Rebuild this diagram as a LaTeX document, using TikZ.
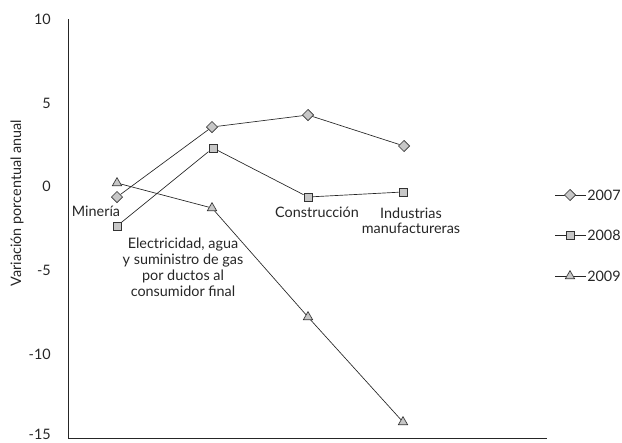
\documentclass[tikz,border=0pt]{standalone}
\usepackage{fontspec}
\setmainfont{Lato}
\usetikzlibrary{shapes.geometric}
\begin{document}
\begin{tikzpicture}[x=0.75pt,y=-0.75pt,
  lbl/.style={font=\fontsize{10.8}{12}\selectfont, text=black!85, inner sep=0},
  mk/.style={draw=black!80, fill=black!22, line width=0.5pt, inner sep=0},
  dia/.style={mk, diamond, minimum width=8.5pt, minimum height=8.5pt},
  sq/.style={mk, rectangle, minimum size=6.2pt},
  tri/.style={mk, regular polygon, regular polygon sides=3, minimum size=8pt},
  ln/.style={draw=black!85, line width=0.5pt},
  axis/.style={draw=black!85, line width=0.7pt}]
\useasboundingbox (0,0) rectangle (622,443);
% axes
\coordinate (top) at (68,19);
\coordinate (org) at (68,438);
\coordinate (rgt) at (547,438);
\draw[axis] (top) -- (org) -- (rgt);
% tick labels
\node[lbl, anchor=east] (y10) at (51,19) {10};
\node[lbl, anchor=east] (y5) at (51,103) {5};
\node[lbl, anchor=east] (y0) at (51,186) {0};
\node[lbl, anchor=east] (ym5) at (51,270) {-5};
\node[lbl, anchor=east] (ym10) at (51,354) {-10};
\node[lbl, anchor=east] (ym15) at (51,434) {-15};
\node[lbl, rotate=90] (ytitle) at (17,203) {Variación porcentual anual};
% 2007
\node[dia] (a1) at (117,197) {};
\node[dia] (a2) at (212,127) {};
\node[dia] (a3) at (308,115) {};
\node[dia] (a4) at (404,146) {};
\draw[ln] (a1) -- (a2) -- (a3) -- (a4);
% 2008
\node[sq] (b1) at (117,226) {};
\node[sq] (b2) at (213,148) {};
\node[sq] (b3) at (308,197) {};
\node[sq] (b4) at (403,192) {};
\draw[ln] (b1) -- (b2) -- (b3) -- (b4);
% 2009
\node[tri] (c1) at (117,183) {};
\node[tri] (c2) at (212,208) {};
\node[tri] (c3) at (308,317) {};
\node[tri] (c4) at (403,422) {};
\draw[ln] (c1) -- (c2) -- (c3) -- (c4);
% category labels
\node[lbl] (mineria) at (96,211) {Minería};
\node[lbl, align=center, font=\fontsize{10.8}{12}\selectfont] (elec) at (183,267) {Electricidad, agua\\y suministro de gas\\por ductos al\\consumidor final};
\node[lbl] (constr) at (317,212) {Construcción};
\node[lbl, align=center, font=\fontsize{10.8}{11.5}\selectfont] (ind) at (411,221) {Industrias\\manufactureras};
% legend
\coordinate (l1a) at (555,195); \coordinate (l1b) at (586,195);
\coordinate (l2a) at (555,235); \coordinate (l2b) at (586,235);
\coordinate (l3a) at (555,276); \coordinate (l3b) at (586,276);
\draw[ln] (l1a) -- (l1b);
\draw[ln] (l2a) -- (l2b);
\draw[ln] (l3a) -- (l3b);
\node[dia] (ld1) at (570,195) {};
\node[sq] (ld2) at (570,235) {};
\node[tri] (ld3) at (570,276) {};
\node[lbl, anchor=west] (t2007) at (587,195) {2007};
\node[lbl, anchor=west] (t2008) at (587,235) {2008};
\node[lbl, anchor=west] (t2009) at (587,276) {2009};
\end{tikzpicture}
\end{document}
